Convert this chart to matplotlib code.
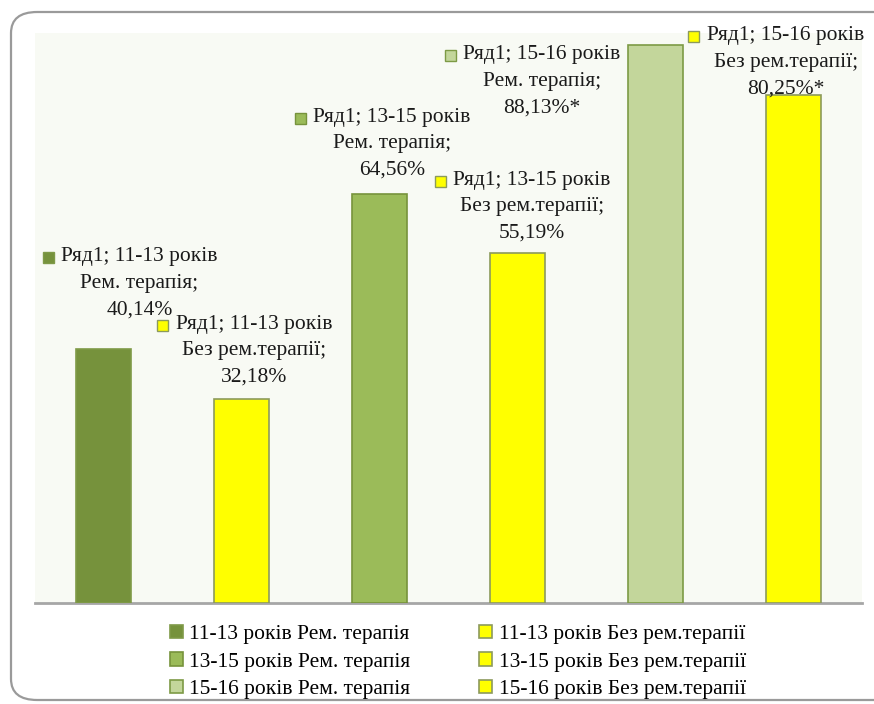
import matplotlib
matplotlib.use("Agg")
import matplotlib.pyplot as plt
from matplotlib.patches import FancyBboxPatch
from matplotlib.transforms import offset_copy

# --- data -------------------------------------------------------------
groups = ["11-13 років", "11-13 років", "13-15 років", "13-15 років",
          "15-16 років", "15-16 років"]
therapy = ["Рем. терапія", "Без рем.терапії", "Рем. терапія",
           "Без рем.терапії", "Рем. терапія", "Без рем.терапії"]
values = [40.14, 32.18, 64.56, 55.19, 88.13, 80.25]
value_marks = ["", "", "", "", "*", "*"]
series_name = "Ряд1"

# --- style ------------------------------------------------------------
fills = ["#76923C", "#FFFF00", "#9BBB59", "#FFFF00", "#C3D69B", "#FFFF00"]
edges = ["#7F9A48", "#8C9A5C", "#77933C", "#8C9A5C", "#7D9A45", "#8C9A5C"]
# label block placement (pixels): x shift of block centre from bar centre,
# height of first line above bar top
label_dx = [35.5, 12.5, 12.5, 14.5, -113.5, -7.5]
label_dy = [92, 75, 77, 73, -10, 59]
line_step = 26.5

plt.rcParams["font.family"] = ["Liberation Serif", "DejaVu Serif"]

W, H = 874, 704
fig = plt.figure(figsize=(W / 100, H / 100), dpi=100)
fig.patch.set_facecolor("white")

# rounded outer frame
frame = FancyBboxPatch((11 / W, 4 / H), 900 / W, (H - 12 - 4) / H,
                       boxstyle="round,pad=0,rounding_size=0.03",
                       transform=fig.transFigure, facecolor="none",
                       edgecolor="#9A9A9A", linewidth=1.6, zorder=0)
fig.patches.append(frame)

ax = fig.add_axes([35 / W, (H - 603) / H, (862 - 35) / W, (603 - 33) / H])
ax.set_facecolor("#F8FAF4")
x = list(range(len(values)))
bars = ax.bar(x, values, width=0.4, color=fills, edgecolor=edges,
              linewidth=1.2, zorder=3)
ax.set_xlim(-0.5, len(values) - 0.5)
ax.set_ylim(0, 90)
ax.set_xticks([])
ax.set_yticks([])
for side in ["top", "left", "right"]:
    ax.spines[side].set_visible(False)
ax.spines["bottom"].set_color("#A6A6A6")
ax.spines["bottom"].set_linewidth(2)

fs = 15.5
for i, (b, v) in enumerate(zip(bars, values)):
    cx = b.get_x() + b.get_width() / 2
    top = b.get_height()
    lines = [f"{series_name}; {groups[i]}", f"{therapy[i]};",
             f"{v:.2f}".replace(".", ",") + "%" + value_marks[i]]
    for k, s in enumerate(lines):
        tr = offset_copy(ax.transData, fig=fig, x=label_dx[i],
                         y=label_dy[i] - k * line_step, units="dots")
        t = ax.text(cx, top, s, transform=tr, ha="center", va="center",
                    fontsize=fs, color="#1A1A1A", zorder=5)
        if k == 0:
            fig.canvas.draw()
            bb = t.get_window_extent()
            sq_x, sq_y = fig.transFigure.inverted().transform(
                (bb.x0 - 13, (bb.y0 + bb.y1) / 2 - 1))
            fig.patches.append(plt.Rectangle(
                (sq_x - 5.5 / W, sq_y - 5.5 / H), 11 / W, 11 / H,
                transform=fig.transFigure, facecolor=fills[i],
                edgecolor=edges[i], linewidth=1.0, zorder=6))

# legend, filled column by column
order = [0, 2, 4, 1, 3, 5]
handles = [bars[j] for j in order]
labels = [f"{groups[j]} {therapy[j]}" for j in order]
leg = fig.legend(handles, labels, ncol=2, loc="upper center",
                 bbox_to_anchor=(458 / W, 1 - 616 / H), frameon=False,
                 fontsize=fs, handlelength=0.6, handleheight=0.6,
                 handletextpad=0.3, columnspacing=3.2, labelspacing=0.38,
                 borderaxespad=0)

fig.savefig("out.png", dpi=100, facecolor="white")
